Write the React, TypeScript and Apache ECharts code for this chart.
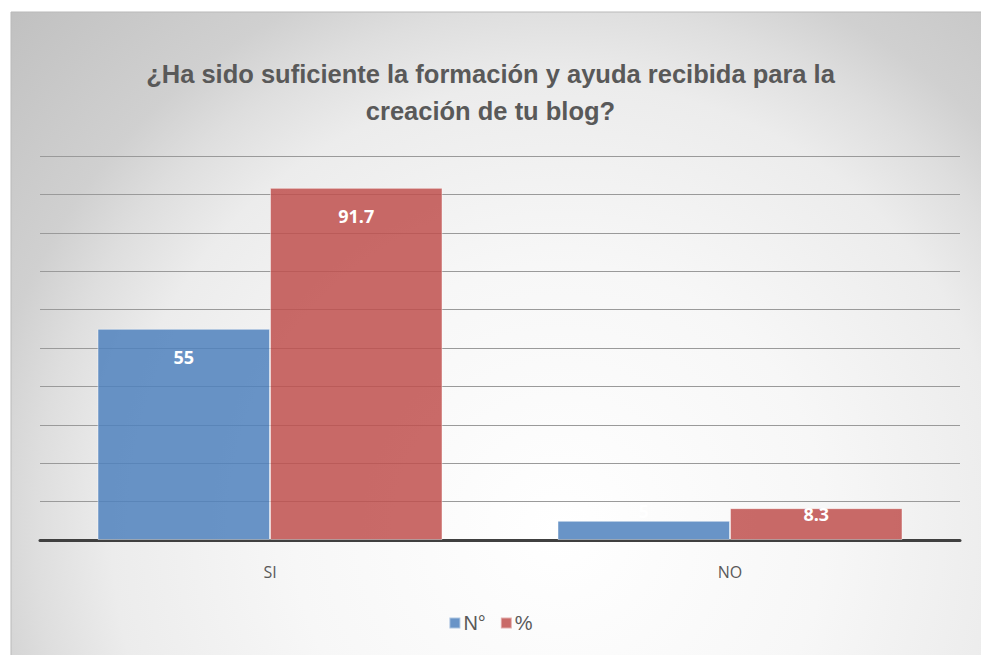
import React, { useEffect, useRef } from "react";
import * as echarts from "echarts";

const categories = ["SI", "NO"];
const seriesNames = ["N°", "%"];
const countValues = [55, 5];
const percentValues = [91.7, 8.3];
const titleLines = ["¿Ha sido suficiente la formación y ayuda recibida para la", "creación de tu blog?"];

export default function App() {
  const ref = useRef<HTMLDivElement>(null);
  useEffect(() => {
    if (!ref.current) return;
    const chart = echarts.init(ref.current, null, { renderer: "svg" });
    const labelFor = (v: number) =>
      v > 20
        ? { show: true, position: "insideTop", distance: 19 }
        : { show: true, position: "insideTop", distance: v > 7 ? -3 : -19 };
    chart.setOption({
      animation: false,
      backgroundColor: "#ffffff",
      graphic: [
        {
          type: "rect",
          z: -10,
          silent: true,
          shape: { x: 11, y: 12, width: 985, height: 660 },
          style: {
            fill: new echarts.graphic.RadialGradient(
              560,
              530,
              760,
              [
                { offset: 0, color: "#ffffff" },
                { offset: 0.35, color: "#f7f7f7" },
                { offset: 0.59, color: "#ececec" },
                { offset: 0.69, color: "#dedede" },
                { offset: 0.77, color: "#d0d0d0" },
                { offset: 1, color: "#c0c0c0" },
              ],
              true
            ),
            stroke: "#b9b9b9",
            lineWidth: 1,
          },
        },
      ],
      title: {
        text: titleLines.join("\n"),
        left: "center",
        top: 50,
        textStyle: {
          fontFamily: "Liberation Sans",
          fontSize: 25.5,
          fontWeight: "bold",
          color: "#595959",
          lineHeight: 37,
        },
      },
      legend: {
        data: seriesNames,
        bottom: 17,
        left: "center",
        itemWidth: 11,
        itemHeight: 11,
        itemGap: 14,
        icon: "rect",
        textStyle: { fontFamily: "Liberation Sans", fontSize: 20, color: "#595959", padding: [0, 0, 0, -2] },
      },
      grid: { left: 40, right: 21, top: 156, bottom: 115 },
      xAxis: {
        type: "category",
        data: categories,
        axisLine: { lineStyle: { color: "#404040", width: 3 } },
        axisTick: { show: false },
        axisLabel: { color: "#595959", fontSize: 16, fontFamily: "Open Sans", margin: 24 },
      },
      yAxis: {
        type: "value",
        min: 0,
        max: 100,
        interval: 10,
        axisLabel: { show: false },
        axisLine: { show: false },
        axisTick: { show: false },
        splitLine: { lineStyle: { color: "#9a9a9a", width: 1 } },
      },
      series: [
        {
          name: seriesNames[0],
          type: "bar",
          barCategoryGap: "25%",
          barGap: "0%",
          data: countValues.map((v) => ({ value: v, label: labelFor(v) })),
          itemStyle: { color: "rgba(79,129,189,0.85)", borderColor: "rgba(255,255,255,0.45)", borderWidth: 1 },
          label: { color: "#ffffff", fontFamily: "Open Sans", fontWeight: "bold", fontSize: 18 },
        },
        {
          name: seriesNames[1],
          type: "bar",
          barCategoryGap: "25%",
          barGap: "0%",
          data: percentValues.map((v) => ({ value: v, label: labelFor(v) })),
          itemStyle: { color: "rgba(192,80,77,0.85)", borderColor: "rgba(255,255,255,0.45)", borderWidth: 1 },
          label: { color: "#ffffff", fontFamily: "Open Sans", fontWeight: "bold", fontSize: 18 },
        },
      ],
    });
    return () => chart.dispose();
  }, []);
  return <div ref={ref} style={{ position: "fixed", left: 0, top: 0, width: 981, height: 655 }} />;
}
